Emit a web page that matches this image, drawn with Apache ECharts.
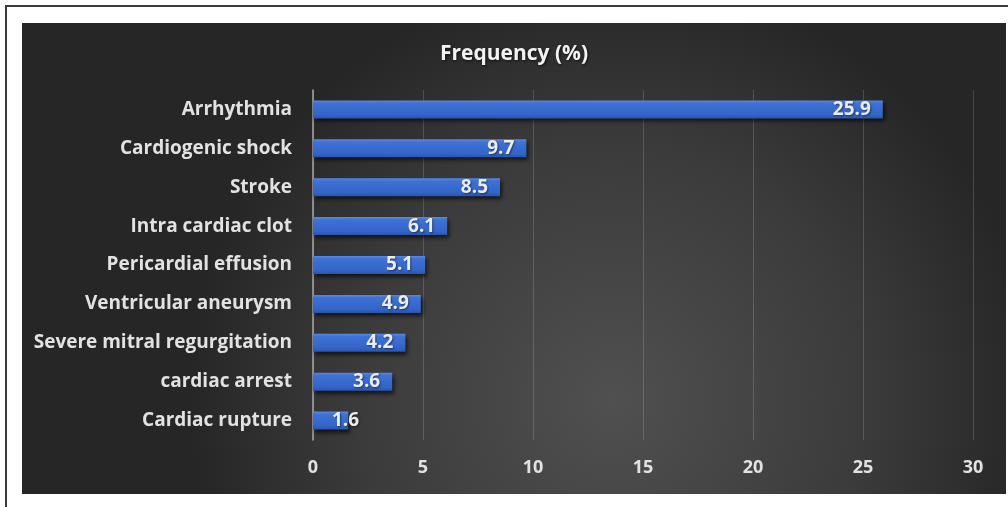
<!DOCTYPE html>
<html>
<head>
<meta charset="utf-8">
<script src="https://cdn.jsdelivr.net/npm/echarts@6/dist/echarts.min.js"></script>
<style>
  html, body { margin: 0; padding: 0; background: #ffffff; width: 1008px; height: 507px; overflow: hidden; }
  #frame { position: absolute; left: 5px; top: 5px; width: 1020px; height: 520px; border: 2px solid #3a3a3a; box-sizing: border-box; }
  #chart { position: absolute; left: 22px; top: 23px; width: 984px; height: 471px; }
</style>
</head>
<body>
<div id="frame"></div>
<div id="chart"></div>
<script>
const categories = ["Arrhythmia", "Cardiogenic shock", "Stroke", "Intra cardiac clot", "Pericardial effusion", "Ventricular aneurysm", "Severe mitral regurgitation", "cardiac arrest", "Cardiac rupture"];
const values = [25.9, 9.7, 8.5, 6.1, 5.1, 4.9, 4.2, 3.6, 1.6];
const titleText = "Frequency (%)";
const xTicks = [0, 5, 10, 15, 20, 25, 30];

const chart = echarts.init(document.getElementById('chart'), null, { renderer: 'canvas' });
const font = '"Open Sans", Lato, sans-serif';
const seriesData = values.map(v => v < 2
  ? { value: v, label: { position: 'insideLeft', distance: 19 } }
  : v);
chart.setOption({
  animation: false,
  backgroundColor: {
    type: 'radial', x: 0.6, y: 0.8, r: 0.9,
    colorStops: [
      { offset: 0, color: '#505050' },
      { offset: 0.6, color: '#3b3b3b' },
      { offset: 1, color: '#262626' }
    ]
  },
  title: {
    text: titleText,
    left: 'center',
    top: 16,
    textStyle: {
      color: '#f2f2f2', fontSize: 21, fontWeight: 'bold', fontFamily: font,
      textShadowColor: 'rgba(0,0,0,0.7)', textShadowBlur: 3, textShadowOffsetX: 1, textShadowOffsetY: 1
    }
  },
  grid: { left: 291, right: 33, top: 67, bottom: 54, containLabel: false },
  xAxis: {
    type: 'value',
    min: xTicks[0],
    max: xTicks[xTicks.length - 1],
    interval: xTicks[1] - xTicks[0],
    axisLine: { show: false },
    axisTick: { show: false },
    splitLine: { show: true, lineStyle: { color: 'rgba(255,255,255,0.16)', width: 1 } },
    axisLabel: { color: '#e2e2e2', fontSize: 18, fontWeight: 'bold', fontFamily: font, margin: 19 }
  },
  yAxis: {
    type: 'category',
    data: categories,
    inverse: true,
    axisLine: { show: true, lineStyle: { color: '#a8a8a8', width: 1.5 } },
    axisTick: { show: false },
    axisLabel: { color: '#e2e2e2', fontSize: 19, fontWeight: 'bold', fontFamily: font, margin: 21 }
  },
  series: [{
    type: 'bar',
    data: seriesData,
    barWidth: 18,
    itemStyle: {
      color: {
        type: 'linear', x: 0, y: 0, x2: 0, y2: 1,
        colorStops: [
          { offset: 0, color: '#5a8ae6' },
          { offset: 0.15, color: '#3f72d6' },
          { offset: 0.8, color: '#3364c8' },
          { offset: 1, color: '#2a55ae' }
        ]
      },
      shadowColor: 'rgba(0,0,0,0.65)', shadowBlur: 4, shadowOffsetX: 2, shadowOffsetY: 3
    },
    label: {
      show: true,
      position: 'insideRight',
      distance: 12,
      color: '#ececec',
      fontSize: 19,
      fontWeight: 'bold',
      fontFamily: font,
      textShadowColor: 'rgba(0,0,0,0.5)', textShadowBlur: 2, textShadowOffsetX: 1, textShadowOffsetY: 1
    }
  }]
});
</script>
</body>
</html>
